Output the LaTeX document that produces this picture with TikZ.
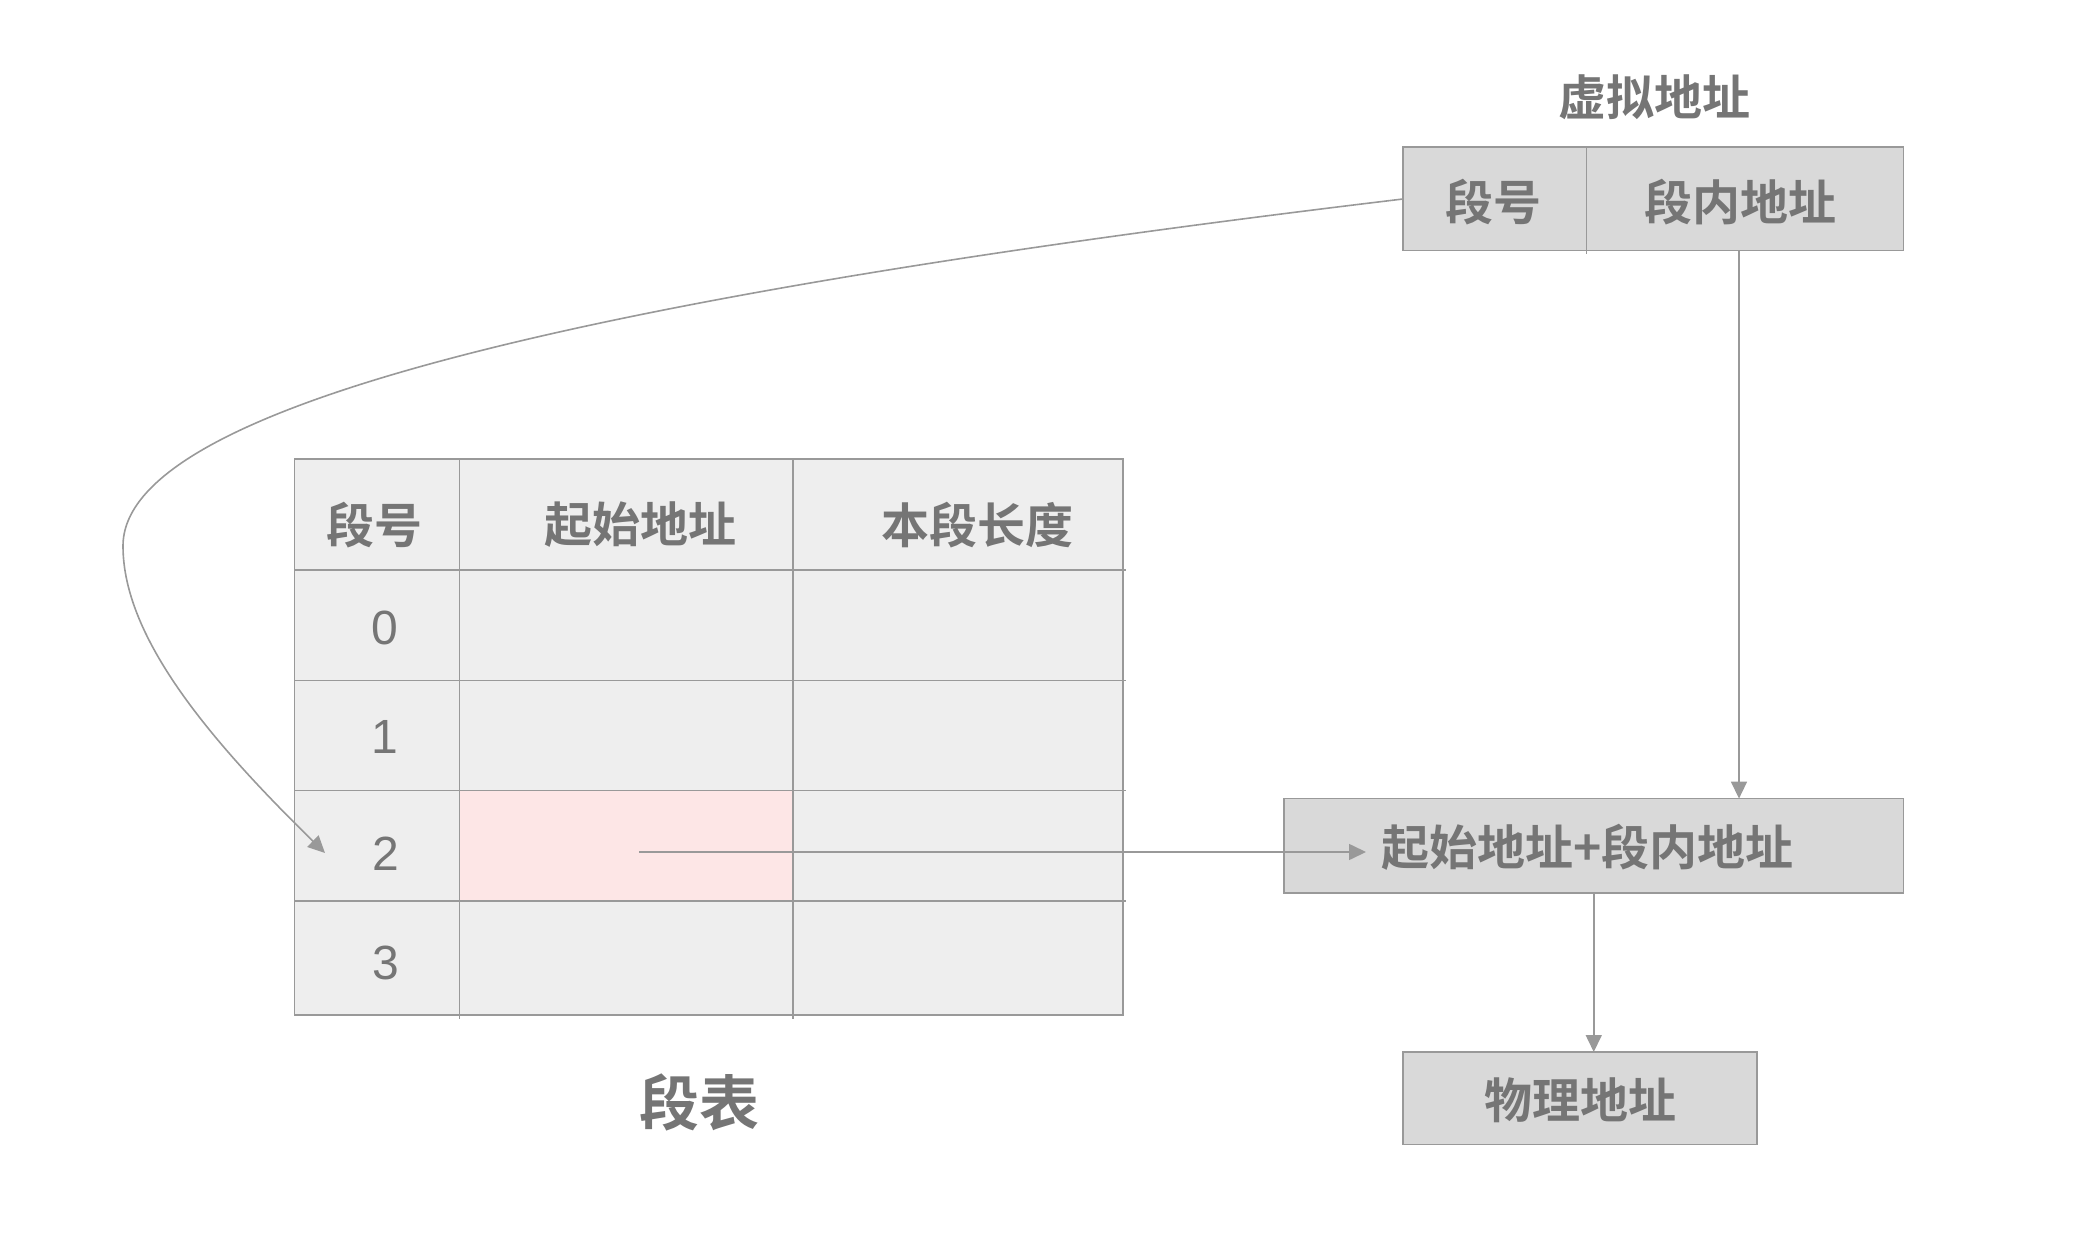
\documentclass[tikz,border=0pt]{standalone}
\usepackage{fontspec}
\setmainfont{Liberation Sans}
\newfontfamily\cjk{Noto Sans CJK SC}[BoldFont={Noto Sans CJK SC Bold}]
\usetikzlibrary{arrows.meta,calc}
\definecolor{lineg}{HTML}{999999}
\definecolor{txtg}{HTML}{757575}
\definecolor{boxg}{HTML}{D9D9D9}
\definecolor{tabg}{HTML}{EEEEEE}
\definecolor{pinkc}{HTML}{FDE6E6}
\begin{document}
\begin{tikzpicture}[x=1pt,y=-1pt,
  lbl/.style={text=txtg, font=\cjk\bfseries\fontsize{48}{52}\selectfont, inner sep=0pt},
  biglbl/.style={text=txtg, font=\cjk\bfseries\fontsize{60}{64}\selectfont, inner sep=0pt},
  num/.style={text=txtg, font=\fontsize{48}{52}\selectfont, inner sep=0pt},
  box/.style={draw=lineg, fill=boxg, line width=1.6pt, inner sep=0pt, outer sep=0pt, anchor=north west},
  grid line/.style={draw=lineg, line width=1.6pt},
  conn/.style={draw=lineg, line width=1.6pt, -{Triangle[length=17pt,width=16pt]}},
]
\useasboundingbox (0,0) rectangle (2080,1238);

% ---------- segment table ----------
\fill[tabg] (294.5,459) rectangle (1123,1015);
\fill[pinkc] (459.5,790.6) rectangle (793,900.7);
\foreach \yy in {570,680.5,790.6,900.7}
  \draw[grid line] (294.5,\yy) -- (1126,\yy);
\foreach \xx in {459.5,793}
  \draw[grid line] (\xx,459) -- (\xx,1019);
\draw[grid line] (294.5,459) rectangle (1123,1015);

\node[lbl] (th1) at (374,525) {段号};
\node[lbl] (th2) at (640,525) {起始地址};
\node[lbl] (th3) at (977,525) {本段长度};
\node[num] (r0) at (385,628) {0};
\node[num] (r1) at (385,737) {1};
\node[num] (r2) at (386,854) {2};
\node[num] (r3) at (386,963) {3};
\node[biglbl] (tabname) at (699,1102) {段表};

\coordinate (p2) at (639,852);
\coordinate (c2) at (325,853);

% ---------- virtual address ----------
\node[lbl] (vaddr) at (1654,97) {虚拟地址};
\node[box, minimum width=183.6pt, minimum height=103.4pt] (seg) at (1403,147.3) {};
\node[box, minimum width=316.8pt, minimum height=103.4pt] (off) at (1586.6,147.3) {};
\draw[grid line] (seg.north east) -- ([yshift=-3pt]seg.south east);
\node[lbl] (segtxt) at (1493,202) {段号};
\node[lbl] (offtxt) at (1740,202) {段内地址};

% ---------- sum box ----------
\node[box, minimum width=619.5pt, minimum height=94.1pt] (sum) at (1284,798.6) {};
\node[lbl, anchor=west] (sumtxt) at (1381,847) {起始地址+段内地址};
\coordinate (sumin) at (1366,852);

% ---------- physical address ----------
\node[box, minimum width=354.3pt, minimum height=92.4pt] (phys) at (1402.7,1052) {};
\node[lbl] (phystxt) at (1580,1100) {物理地址};

% ---------- connectors ----------
\draw[conn] (seg.west) .. controls (560,300) and (123,410) .. (123,546)
            .. controls (123,640) and (215,745) .. (c2);
\draw[conn] (p2) -- (sumin);
\draw[conn] ([xshift=-6pt]off.south) -- ([xshift=-6pt]off.south |- sum.north);
\draw[conn] (sum.south) -- (sum.south |- phys.north);
\end{tikzpicture}
\end{document}
